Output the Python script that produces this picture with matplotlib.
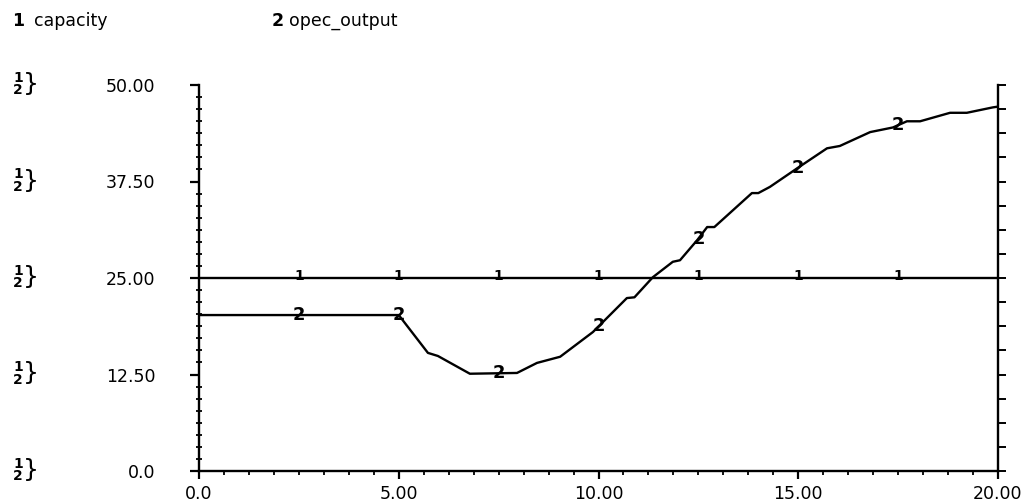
import numpy as np
import matplotlib
matplotlib.use("Agg")
import matplotlib.pyplot as plt
from matplotlib.ticker import MultipleLocator

# series
time = [0.0, 2.5, 5.0, 5.73, 5.98, 6.78, 7.96, 8.46, 9.04, 9.86, 10.71, 10.9,
        11.36, 11.86, 12.04, 12.47, 12.72, 12.9, 13.37, 13.84, 14.0, 14.29,
        14.97, 15.72, 16.04, 16.8, 17.37, 17.72, 18.05, 18.8, 19.22, 19.87, 20.0]
opec_output = [20.2, 20.2, 20.2, 15.3, 14.9, 12.6, 12.7, 14.0, 14.8, 18.0, 22.4, 22.5,
               25.1, 27.1, 27.3, 29.9, 31.6, 31.6, 33.8, 36.0, 36.0, 36.8,
               39.2, 41.8, 42.1, 43.9, 44.5, 45.3, 45.3, 46.4, 46.4, 47.1, 47.2]
capacity_time = [0.0, 20.0]
capacity = [25.0, 25.0]
marker_times = [2.5, 5.0, 7.5, 10.0, 12.5, 15.0, 17.5]
y_ticks = [0.0, 12.5, 25.0, 37.5, 50.0]
y_labels = ["0.0", "12.50", "25.00", "37.50", "50.00"]
x_ticks = [0.0, 5.0, 10.0, 15.0, 20.0]
x_labels = ["0.0", "5.00", "10.00", "15.00", "20.00"]

plt.rcParams['font.family'] = ['DejaVu Sans']

fig = plt.figure(figsize=(10.28, 5.04), dpi=100)
ax = fig.add_axes([199 / 1028, 33 / 504, 799 / 1028, 386 / 504])

ax.plot(capacity_time, capacity, color="black", lw=1.7)
ax.plot(time, opec_output, color="black", lw=1.7)

# numbered markers on the curves
for t in marker_times:
    ax.text(t, 25.3, "1", ha="center", va="center", fontsize=10, fontweight="bold")
    v = np.interp(t, time, opec_output)
    ax.text(t, v, "2", ha="center", va="center", fontsize=13, fontweight="bold")

ax.set_xlim(0, 20)
ax.set_ylim(0, 50)
ax.spines["top"].set_visible(False)
ax.spines["right"].set_visible(False)
for s in ["left", "bottom"]:
    ax.spines[s].set_linewidth(1.7)

ax.set_xticks(x_ticks)
ax.set_xticklabels(x_labels)
ax.xaxis.set_minor_locator(MultipleLocator(0.625))
ax.set_yticks(y_ticks)
ax.set_yticklabels(y_labels)
ax.yaxis.set_minor_locator(MultipleLocator(12.5 / 8))
ax.tick_params(axis="x", which="major", direction="out", length=6, width=1.6,
               labelsize=12.5, pad=4)
ax.tick_params(axis="x", which="minor", direction="out", length=3, width=1.3)
ax.tick_params(axis="y", which="major", direction="out", length=6.5, width=1.6,
               labelsize=12.5, pad=25)
ax.tick_params(axis="y", which="minor", direction="inout", length=4, width=1.3)

# right-hand scale, coarser ticks, no labels
ax2 = ax.twinx()
ax2.set_ylim(0, 50)
ax2.set_yticks(y_ticks)
ax2.yaxis.set_minor_locator(MultipleLocator(12.5 / 4))
ax2.tick_params(axis="y", which="both", direction="out", length=6, width=1.4,
                labelright=False)
for s in ["top", "left", "bottom"]:
    ax2.spines[s].set_visible(False)
ax2.spines["right"].set_linewidth(1.7)

# "1 over 2" markers at each y level on the far left
for y in y_ticks:
    yf = (ax.transData.transform((0, y))[1] + 1) / fig.bbox.height
    fig.text(18 / 1028, yf, "1\n2", ha="center", va="center", fontsize=10,
             fontweight="bold", linespacing=0.85)
    fig.text(31 / 1028, yf, "}", ha="center", va="center", fontsize=18)

fig.text(12 / 1028, 1 - 21 / 504, "1", fontsize=12.5, fontweight="bold", va="center")
fig.text(34 / 1028, 1 - 21 / 504, "capacity", fontsize=12.5, va="center")
fig.text(272 / 1028, 1 - 21 / 504, "2", fontsize=12.5, fontweight="bold", va="center")
fig.text(289 / 1028, 1 - 21 / 504, "opec_output", fontsize=12.5, va="center")

fig.savefig("out.png", dpi=100)
